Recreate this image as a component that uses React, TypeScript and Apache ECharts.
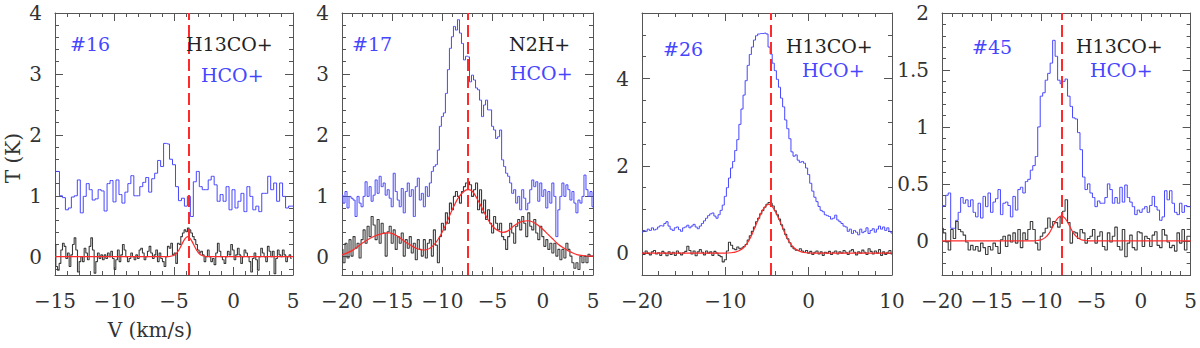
import { useEffect, useRef } from "react";
import * as echarts from "echarts";

// ---------------- data ----------------
// Panel #16 : HCO+ (blue) and H13CO+ (dark), velocity channels in km/s
const S16_HCO_START = -15;
const S16_HCO_STEP = 0.25;
const S16_HCO = [
  1.40, 1.40, 1.00, 0.97, 0.77, 0.80, 0.98, 1.00, 1.26, 0.72,
  0.99, 1.20, 1.10, 0.93, 0.95, 1.10, 1.08, 0.75, 1.20, 1.25,
  0.90, 1.26, 1.02, 0.88, 1.06, 1.20, 1.33, 1.00, 1.00, 1.15,
  1.22, 1.30, 1.06, 1.28, 1.37, 1.58, 1.48, 1.86, 1.85, 1.60,
  1.51, 1.15, 0.92, 0.96, 0.83, 0.99, 0.66, 1.23, 1.40, 1.15,
  1.10, 1.10, 1.26, 1.32, 1.18, 0.91, 1.02, 0.91, 1.15, 0.77,
  1.10, 0.80, 0.91, 1.04, 0.74, 1.15, 0.99, 0.77, 0.83, 0.74,
  1.04, 1.04, 1.32, 1.10, 1.21, 0.91, 1.21, 0.99, 0.80, 0.83, 0.83,
];
const S16_H13_START = -15;
const S16_H13_STEP = 0.14;
const S16_H13 = [
  0.20, -0.16, -0.22, -0.11, 0.11, 0.22, 0.17, -0.03, 0.06, -0.16,
  0.03, 0.20, 0.31, 0.11, -0.25, -0.08, 0.00, -0.08, 0.14, 0.06,
  -0.05, 0.17, 0.31, 0.11, -0.27, -0.08, 0.06, -0.03, 0.03, -0.05,
  0.03, -0.03, 0.06, 0.00, 0.09, -0.03, -0.21, -0.05, 0.11, -0.08,
  0.03, 0.20, 0.11, 0.00, -0.08, -0.03, 0.06, 0.00, -0.05, 0.03,
  -0.03, 0.11, 0.14, 0.06, -0.05, 0.00, 0.09, 0.17, 0.06, -0.03,
  0.03, 0.11, -0.08, 0.06, -0.03, -0.08, -0.16, 0.00, 0.17, 0.14,
  0.22, 0.03,
  0.06, -0.11, 0.22, 0.20, 0.33, 0.39, 0.44, 0.41, 0.47, 0.44,
  0.39, 0.33, 0.28, 0.20, 0.11, 0.06, 0.09, 0.03, -0.08, 0.00,
  0.11, 0.00, -0.08, -0.03, -0.13, 0.06, 0.22, 0.09, 0.00, -0.05,
  -0.11, 0.00, 0.09, 0.03, 0.20, 0.11, -0.05, 0.03, 0.14, 0.03,
  -0.11, 0.00, 0.11, 0.06, 0.00, -0.08, -0.25, -0.03, 0.06, -0.05,
  -0.22, 0.00, 0.14, 0.06, 0.00, -0.08, 0.17, 0.09, 0.00, 0.09,
  -0.28, -0.03, 0.11, 0.03, 0.00, 0.11, 0.03, -0.08, 0.00, 0.03,
  -0.03,
];
const FIT16 = [
  [-15, 0], [-5.6, 0], [-5.35, 0.004], [-5.1, 0.015], [-4.85, 0.045], [-4.6, 0.107],
  [-4.35, 0.2], [-4.1, 0.29], [-3.85, 0.33], [-3.6, 0.29], [-3.35, 0.2], [-3.1, 0.107],
  [-2.85, 0.045], [-2.6, 0.015], [-2.35, 0.004], [-2.1, 0], [5, 0],
];
const VLSR16 = -3.8;

// Panel #17 : HCO+ (blue) and N2H+ (dark)
const S17_HCO_START = -20;
const S17_HCO_STEP = 0.2;
const S17_HCO = [
  1.01, 0.88, 1.07, 0.80, 0.99, 0.96, 0.93, 0.66, 0.99, 0.88,
  0.82, 0.99, 1.23, 0.99, 1.15, 0.91, 1.01, 1.26, 1.04, 1.32,
  1.15, 1.21, 1.01, 1.10, 0.96, 0.82, 1.37, 1.07, 0.93, 0.82,
  1.12, 0.72, 1.07, 1.21, 0.99, 1.10, 0.66, 1.15, 1.29, 0.93,
  1.04, 0.82, 1.15, 0.99, 1.21, 1.40, 1.48, 1.51, 1.75, 2.14,
  2.30, 2.36, 2.68, 3.07, 3.42, 3.61, 3.78, 3.72, 3.89, 3.67,
  3.50, 3.23, 3.29,
  3.28, 2.87, 2.98, 2.90, 2.77, 2.74, 2.57, 2.30, 2.49, 2.57,
  2.41, 2.41, 2.14, 2.08, 1.94, 1.97, 2.08, 1.59, 1.48, 1.37,
  1.32, 1.21, 1.04, 1.10, 0.88, 0.99, 0.77, 1.10, 0.96, 0.77,
  0.88, 1.10, 1.26, 1.15, 1.23, 0.91, 1.21, 0.99, 1.10, 0.80,
  1.07, 0.88, 1.21, 0.99, 0.33, 0.77, 0.99, 1.21, 0.99, 1.18,
  1.10, 0.93, 1.07, 0.88, 0.72, 0.93, 0.88, 0.99, 1.34, 1.10,
  0.99, 1.07, 0.82,
];
const S17_N2H_START = -20;
const S17_N2H_STEP = 0.2;
const S17_N2H = [
  0.12, -0.10, 0.22, -0.02, 0.28, 0.01, 0.33, 0.14, 0.22, -0.02,
  0.28, 0.44, 0.22, 0.50, 0.33, 0.66, 0.52, 0.28, 0.61, 0.22,
  0.55, 0.39, 0.01, 0.41, 0.50, 0.22, 0.44, 0.12, 0.33, 0.22,
  0.39, 0.01, 0.28, 0.14, 0.33, 0.06, 0.22, -0.05, 0.28, 0.12,
  0.01, 0.28, -0.02, 0.22, 0.28, 0.01, 0.44, 0.19, -0.10, 0.33,
  0.55, 0.44, 0.72, 0.55, 0.88, 0.77, 0.99, 1.07, 0.99, 0.88,
  1.07, 1.15, 1.21,
  1.23, 1.18, 0.99, 1.10, 1.21, 0.77, 1.10, 0.72, 0.93, 0.61,
  0.77, 0.55, 0.39, 0.66, 0.55, 0.44, 0.55, 0.33, 0.28, 0.12,
  0.33, 0.55, 0.39, 0.22, 0.50, 0.61, 0.44, 0.66, 0.55, 0.33,
  0.72, 0.50, 0.44, 0.61, 0.39, 0.28, 0.50, 0.33, 0.17, 0.28,
  0.12, 0.22, 0.06, 0.22, 0.01, 0.12, -0.05, 0.12, -0.02, 0.22,
  0.12, 0.01, -0.10, -0.19, -0.10, -0.21, 0.01, -0.10, 0.01, -0.10,
  0.04, 0.01, 0.01,
];
const FIT17 = [
  [-20, 0.03], [-19, 0.1], [-18, 0.22], [-17, 0.32], [-16, 0.38], [-15.3, 0.39],
  [-14.5, 0.34], [-13.5, 0.22], [-12.5, 0.13], [-11.8, 0.11], [-11, 0.17], [-10.3, 0.32],
  [-9.6, 0.55], [-9, 0.78], [-8.4, 0.97], [-7.8, 1.08], [-7.4, 1.1], [-7, 1.07],
  [-6.5, 0.94], [-6, 0.78], [-5.5, 0.62], [-5, 0.5], [-4.5, 0.43], [-4, 0.4],
  [-3.5, 0.42], [-3, 0.49], [-2.5, 0.55], [-2, 0.58], [-1.5, 0.59], [-1, 0.57],
  [-0.5, 0.52], [0, 0.45], [0.5, 0.37], [1, 0.29], [1.5, 0.21], [2, 0.15],
  [2.5, 0.1], [3, 0.06], [3.5, 0.03], [4, 0.02], [4.5, 0.01], [5, 0.01],
];
const VLSR17 = -7.45;

// Panel #26 : HCO+ (blue) and H13CO+ (dark)
const S26_HCO_START = -20;
const S26_HCO_STEP = 0.25;
const S26_HCO = [
  0.48, 0.52, 0.50, 0.55, 0.52, 0.58, 0.53, 0.55, 0.60, 0.63,
  0.62, 0.68, 0.72, 0.62, 0.55, 0.52, 0.58, 0.60, 0.54, 0.50,
  0.58, 0.60, 0.64, 0.58, 0.62, 0.66, 0.60, 0.56, 0.62, 0.68,
  0.74, 0.80, 0.86, 0.90, 0.92, 0.85, 0.80, 0.88, 0.98, 1.10,
  1.30, 1.50, 1.72, 1.95, 2.10, 2.35, 2.60, 2.95, 3.30, 3.62,
  3.95, 4.30, 4.55, 4.72, 4.88, 4.98, 5.02, 5.03, 5.03, 5.04,
  5.02, 4.72, 4.56, 4.35, 4.18, 3.98, 3.80, 3.55, 3.35, 3.05,
  2.85, 2.62, 2.32, 2.22, 2.25, 2.13, 2.08, 2.10, 2.06, 1.95,
  1.80, 1.60, 1.42, 1.28, 1.18, 1.07, 0.98, 0.95, 0.88, 0.86,
  0.84, 0.78, 0.80, 0.87, 0.76, 0.72, 0.68, 0.62, 0.60, 0.50,
  0.55, 0.45, 0.52, 0.48, 0.42, 0.55, 0.47, 0.50, 0.58, 0.45,
  0.52, 0.56, 0.48, 0.55, 0.62, 0.55, 0.60, 0.52, 0.58, 0.50,
  0.46,
];
const S26_H13_START = -20;
const S26_H13_STEP = 0.25;
const S26_H13 = [
  0.02, -0.03, 0.05, 0.00, -0.04, 0.03, 0.06, -0.02, 0.01, -0.05,
  0.04, 0.00, -0.06, 0.03, -0.03, 0.02, -0.05, 0.05, 0.00, -0.04,
  0.01, 0.04, 0.16, 0.06, -0.02, 0.05, -0.06, 0.03, 0.08, 0.02,
  -0.04, 0.05, 0.00, 0.03, -0.05, 0.04, 0.00, -0.05, -0.08, -0.20,
  -0.15, 0.05, 0.25, 0.18, 0.10, 0.08, 0.14, 0.10, 0.12, 0.15,
  0.20, 0.30, 0.40, 0.50, 0.60, 0.72, 0.80, 0.90, 0.98, 1.05,
  1.12, 1.16, 1.14, 1.08, 0.97, 0.88, 0.78, 0.65, 0.55, 0.43,
  0.33, 0.24, 0.15, 0.10, 0.07, 0.06, 0.10, 0.05, 0.02, 0.06,
  0.00, 0.04, -0.03, 0.02, 0.05, -0.02, 0.03, -0.05, 0.02, 0.00,
  0.04, -0.03, 0.02, 0.05, -0.02, 0.03, 0.00, 0.06, 0.02, -0.03,
  0.05, 0.08, 0.02, -0.04, 0.03, 0.00, 0.07, 0.02, -0.03, 0.10,
  0.04, -0.02, 0.05, 0.00, 0.08, -0.05, 0.03, -0.03, 0.02, 0.06,
  -0.02,
];
const FIT26 = [
  [-20, 0], [-10, 0], [-9.3, 0.01], [-8.8, 0.025], [-8.3, 0.06], [-7.8, 0.13],
  [-7.3, 0.25], [-6.8, 0.43], [-6.3, 0.66], [-5.8, 0.88], [-5.3, 1.05], [-4.8, 1.12],
  [-4.3, 1.05], [-3.8, 0.88], [-3.3, 0.66], [-2.8, 0.43], [-2.3, 0.25], [-1.8, 0.13],
  [-1.3, 0.06], [-0.8, 0.025], [-0.3, 0.01], [0.4, 0], [10, 0],
];
const VLSR26 = -4.6;

// Panel #45 : HCO+ (blue) and H13CO+ (dark)
const S45_HCO_START = -20;
const S45_HCO_STEP = 0.25;
const S45_HCO = [
  0.30, 0.31, 0.40, 0.42, 0.11, 0.11, 0.18, 0.25, 0.38, 0.33,
  0.36, 0.30, 0.36, 0.25, 0.21, 0.33, 0.20, 0.39, 0.30, 0.42,
  0.25, 0.34, 0.37, 0.45, 0.23, 0.33, 0.34, 0.31, 0.21, 0.39,
  0.27, 0.45, 0.47, 0.42, 0.52, 0.54, 0.62, 0.66, 0.74, 1.00,
  1.27, 1.30, 1.41, 1.47, 1.56, 1.76, 1.62, 1.41, 1.38, 1.40,
  1.42, 1.27, 1.18, 1.08, 1.07, 0.95, 0.80, 0.56, 0.45, 0.50,
  0.42, 0.38, 0.30, 0.35, 0.33, 0.33, 0.38, 0.50, 0.45, 0.33,
  0.38, 0.33, 0.47, 0.34, 0.49, 0.38, 0.34, 0.30, 0.23, 0.27,
  0.25, 0.28, 0.30, 0.25, 0.31, 0.39, 0.30, 0.27, 0.18, 0.21,
  0.44, 0.36, 0.44, 0.33, 0.25, 0.23, 0.33, 0.25, 0.31, 0.30,
  0.30,
];
const S45_H13_START = -20;
const S45_H13_STEP = 0.25;
const S45_H13 = [
  0.11, 0.07, -0.01, -0.08, 0.10, 0.02, 0.17, 0.10, 0.08, 0.05,
  -0.01, -0.08, -0.04, -0.08, -0.05, -0.09, -0.02, -0.06, -0.12, -0.05,
  -0.08, -0.02, -0.05, -0.11, 0.01, 0.04, -0.05, 0.05, -0.01, 0.07,
  -0.02, 0.10, -0.06, 0.07, 0.01, 0.10, 0.17, 0.10, -0.02, -0.08,
  0.04, 0.07, 0.11, 0.20, 0.12, 0.17, 0.16, 0.12, 0.21, 0.26,
  0.36, 0.16, -0.02, 0.08, 0.07, 0.02, 0.10, 0.07, -0.02, 0.02,
  0.04, 0.10, -0.02, 0.04, 0.08, -0.05, -0.08, 0.07, -0.01, 0.04,
  0.12, -0.05, -0.08, 0.10, -0.14, -0.02, 0.05, -0.06, -0.08, 0.08,
  0.07, -0.05, 0.04, 0.02, -0.05, 0.05, 0.08, -0.04, -0.06, 0.10,
  0.05, -0.01, -0.06, -0.04, -0.09, 0.07, -0.02, 0.10, -0.08, 0.04,
  0.04,
];
const FIT45 = [
  [-20, 0], [-10.8, 0], [-10.4, 0.003], [-10, 0.01], [-9.6, 0.03], [-9.2, 0.07],
  [-8.8, 0.135], [-8.4, 0.195], [-8, 0.22], [-7.6, 0.195], [-7.2, 0.135], [-6.8, 0.07],
  [-6.4, 0.03], [-6, 0.01], [-5.6, 0.003], [-5.2, 0], [5, 0],
];
const VLSR45 = -7.93;

// ---------------- styling / layout ----------------
const FONT_FAMILY = "DejaVu Serif";
const BLUE = "#4646ff";
const INK = "#333333";
const DARK_LINE = "#3c3c3c";
const RED = "#ff2a2a";
const FRAME = "#555555";

const toChannels = (start: number, step: number, vals: number[]) =>
  vals.map((t, i) => [Math.round((start + i * step) * 1000) / 1000, t]);

const minus = (s: string) => s.replace(/-/g, "\u2212");

type Tag = { text: string; x: number; y: number; color: string };
type Panel = {
  rect: { left: number; top: number; width: number; height: number };
  xMin: number; xMax: number; xStep: number; xMinor: number;
  yMin: number; yMax: number; ySplit: number; yStep: number; yMinor: number;
  hco: number[][]; dense: number[][]; fit: number[][]; vline: number;
  tags: Tag[];
};

const PANELS: Panel[] = [
  {
    rect: { left: 55, top: 13, width: 238, height: 262 },
    xMin: -15, xMax: 5, xStep: 5, xMinor: 5,
    yMin: -0.3, yMax: 4, ySplit: 4, yStep: 1, yMinor: 5,
    hco: toChannels(S16_HCO_START, S16_HCO_STEP, S16_HCO),
    dense: toChannels(S16_H13_START, S16_H13_STEP, S16_H13),
    fit: FIT16, vline: VLSR16,
    tags: [
      { text: "#16", x: 70, y: 44, color: BLUE },
      { text: "H13CO+", x: 186, y: 44, color: "#222" },
      { text: "HCO+", x: 201, y: 75, color: BLUE },
    ],
  },
  {
    rect: { left: 342, top: 13, width: 251, height: 262 },
    xMin: -20, xMax: 5, xStep: 5, xMinor: 5,
    yMin: -0.3, yMax: 4, ySplit: 4, yStep: 1, yMinor: 5,
    hco: toChannels(S17_HCO_START, S17_HCO_STEP, S17_HCO),
    dense: toChannels(S17_N2H_START, S17_N2H_STEP, S17_N2H),
    fit: FIT17, vline: VLSR17,
    tags: [
      { text: "#17", x: 352, y: 44, color: BLUE },
      { text: "N2H+", x: 509, y: 44, color: "#222" },
      { text: "HCO+", x: 510, y: 73, color: BLUE },
    ],
  },
  {
    rect: { left: 642, top: 13, width: 250, height: 262 },
    xMin: -20, xMax: 10, xStep: 10, xMinor: 5,
    yMin: -0.5, yMax: 5.5, ySplit: 3, yStep: 2, yMinor: 4,
    hco: toChannels(S26_HCO_START, S26_HCO_STEP, S26_HCO),
    dense: toChannels(S26_H13_START, S26_H13_STEP, S26_H13),
    fit: FIT26, vline: VLSR26,
    tags: [
      { text: "#26", x: 663, y: 49, color: BLUE },
      { text: "H13CO+", x: 786, y: 46, color: "#222" },
      { text: "HCO+", x: 802, y: 70, color: BLUE },
    ],
  },
  {
    rect: { left: 942, top: 13, width: 250, height: 262 },
    xMin: -20, xMax: 5, xStep: 5, xMinor: 5,
    yMin: -0.3, yMax: 2, ySplit: 5, yStep: 0.5, yMinor: 5,
    hco: toChannels(S45_HCO_START, S45_HCO_STEP, S45_HCO),
    dense: toChannels(S45_H13_START, S45_H13_STEP, S45_H13),
    fit: FIT45, vline: VLSR45,
    tags: [
      { text: "#45", x: 972, y: 47, color: BLUE },
      { text: "H13CO+", x: 1076, y: 46, color: "#222" },
      { text: "HCO+", x: 1090, y: 70, color: BLUE },
    ],
  },
];

function buildOption() {
  const grid: any[] = [];
  const xAxis: any[] = [];
  const yAxis: any[] = [];
  const series: any[] = [];
  const graphic: any[] = [];

  const line = { show: true, onZero: false, lineStyle: { color: FRAME, width: 1 } };
  const tick = { show: true, inside: true, length: 8, lineStyle: { color: FRAME, width: 1 } };
  const labelBase = { color: INK, fontFamily: FONT_FAMILY, fontSize: 20 };

  PANELS.forEach((p, i) => {
    grid.push({ ...p.rect });
    const xCommon = {
      type: "value", gridIndex: i, min: p.xMin, max: p.xMax, interval: p.xStep,
      axisLine: line, axisTick: tick, splitLine: { show: false },
      minorTick: { show: true, splitNumber: p.xMinor, length: 4, lineStyle: { color: FRAME } },
    };
    xAxis.push({
      ...xCommon, position: "bottom",
      axisLabel: { ...labelBase, margin: 16, formatter: (v: number) => minus(String(v)) },
    });
    xAxis.push({ ...xCommon, position: "top", axisLabel: { show: false } });

    const yCommon = {
      type: "value", gridIndex: i, min: p.yMin, max: p.yMax, splitNumber: p.ySplit,
      axisLine: line, axisTick: tick, splitLine: { show: false },
      minorTick: { show: true, splitNumber: p.yMinor, length: 4, lineStyle: { color: FRAME } },
    };
    yAxis.push({
      ...yCommon, position: "left",
      axisLabel: {
        ...labelBase, margin: 13,
        formatter: (v: number) => {
          const r = v / p.yStep;
          return Math.abs(r - Math.round(r)) < 1e-6 ? minus(String(+v.toFixed(2))) : "";
        },
      },
    });
    yAxis.push({ ...yCommon, position: "right", axisLabel: { show: false } });

    const xi = 2 * i;
    series.push({
      type: "line", xAxisIndex: xi, yAxisIndex: xi, data: p.hco, step: "middle",
      showSymbol: false, symbol: "none", lineStyle: { color: BLUE, width: 1 },
      emphasis: { disabled: true }, z: 2,
    });
    series.push({
      type: "line", xAxisIndex: xi, yAxisIndex: xi, data: p.dense, step: "middle",
      showSymbol: false, symbol: "none", lineStyle: { color: DARK_LINE, width: 1.1 },
      emphasis: { disabled: true }, z: 3,
    });
    series.push({
      type: "line", xAxisIndex: xi, yAxisIndex: xi, data: p.fit, smooth: 0.3,
      showSymbol: false, symbol: "none", lineStyle: { color: RED, width: 1.2 },
      emphasis: { disabled: true }, z: 4,
      markLine: {
        silent: true, symbol: ["none", "none"], label: { show: false },
        lineStyle: { color: RED, width: 2, type: [12, 5] },
        emphasis: { disabled: true },
        data: [{ xAxis: p.vline }],
      },
    });

    p.tags.forEach((t) => {
      graphic.push({
        type: "text", x: t.x, y: t.y, z: 10,
        style: {
          text: t.text, fill: t.color, font: `19px "${FONT_FAMILY}"`,
          textAlign: "left", textVerticalAlign: "middle", align: "left", verticalAlign: "middle",
        },
      });
    });
  });

  graphic.push({
    type: "text", x: 13, y: 158, rotation: Math.PI / 2, z: 10,
    style: {
      text: "T (K)", fill: INK, font: `20px "${FONT_FAMILY}"`,
      textAlign: "center", textVerticalAlign: "middle", align: "center", verticalAlign: "middle",
    },
  });
  graphic.push({
    type: "text", x: 150, y: 330, z: 10,
    style: {
      text: "V (km/s)", fill: INK, font: `20px "${FONT_FAMILY}"`,
      textAlign: "center", textVerticalAlign: "middle", align: "center", verticalAlign: "middle",
    },
  });

  return {
    animation: false,
    backgroundColor: "#ffffff",
    grid, xAxis, yAxis, series, graphic,
  };
}

export default function App() {
  const ref = useRef<HTMLDivElement>(null);
  useEffect(() => {
    if (!ref.current) return;
    const chart = echarts.init(ref.current, undefined, { renderer: "svg" });
    chart.setOption(buildOption() as any);
    return () => chart.dispose();
  }, []);
  return (
    <div
      ref={ref}
      style={{ position: "absolute", left: 0, top: 0, width: 1200, height: 348, background: "#fff" }}
    />
  );
}
